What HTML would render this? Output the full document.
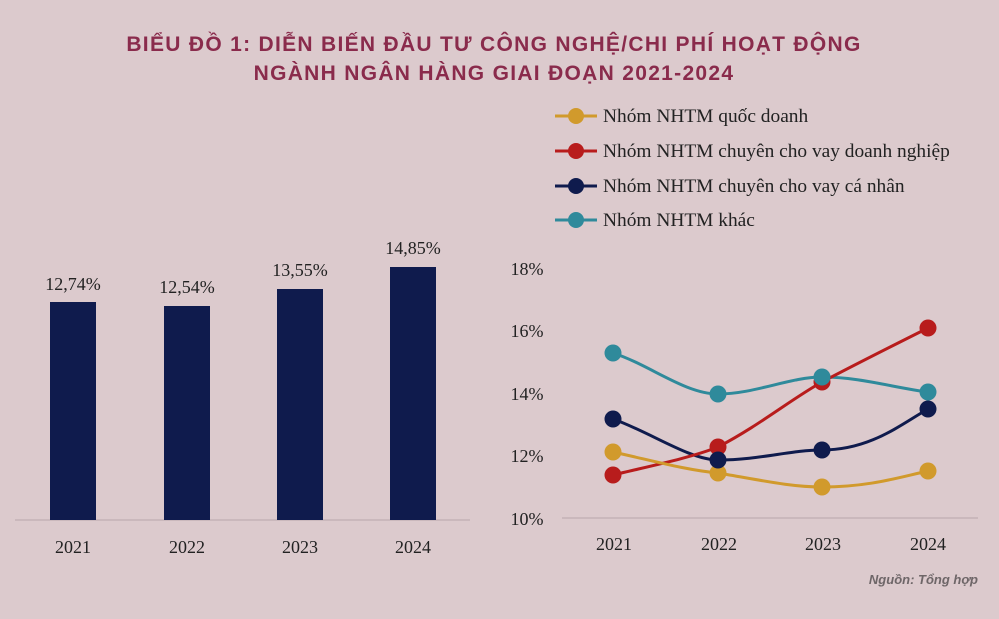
<!DOCTYPE html>
<html><head><meta charset="utf-8"><style>
body{margin:0;width:999px;height:614px;background:#dccacd;overflow:hidden;font-family:"Liberation Serif",serif}
</style></head><body>
<svg width="999" height="614" xmlns="http://www.w3.org/2000/svg">
<rect width="999" height="614" fill="#dccacd"/>
<g font-family="Liberation Sans, DejaVu Sans, sans-serif" font-weight="bold" font-size="21" letter-spacing="1.3" fill="#8a2b4c" text-anchor="middle">
<text x="494" y="51">BIỂU ĐỒ 1: DIỄN BIẾN ĐẦU TƯ CÔNG NGHỆ/CHI PHÍ HOẠT ĐỘNG</text>
<text x="494" y="80">NGÀNH NGÂN HÀNG GIAI ĐOẠN 2021-2024</text>
</g>
<line x1="15" y1="520" x2="470" y2="520" stroke="#b8a6aa" stroke-width="1"/>
<g fill="#0f1b4d">
<rect x="50" y="302" width="46" height="218"/>
<rect x="164" y="306" width="46" height="214"/>
<rect x="277" y="289" width="46" height="231"/>
<rect x="390" y="267" width="46" height="253"/>
</g>
<g font-size="18" fill="#222" text-anchor="middle" font-family="Liberation Serif, serif">
<text x="73" y="290">12,74%</text><text x="187" y="293">12,54%</text>
<text x="300" y="276">13,55%</text><text x="413" y="254">14,85%</text>
<text x="73" y="553">2021</text><text x="187" y="553">2022</text>
<text x="300" y="553">2023</text><text x="413" y="553">2024</text>
<text x="527" y="275">18%</text><text x="527" y="337">16%</text>
<text x="527" y="400">14%</text><text x="527" y="462">12%</text>
<text x="527" y="525">10%</text>
<text x="614" y="550">2021</text><text x="719" y="550">2022</text>
<text x="823" y="550">2023</text><text x="928" y="550">2024</text>
</g>
<line x1="562" y1="518" x2="978" y2="518" stroke="#b8a6aa" stroke-width="1"/>
<g fill="none" stroke-width="3">
<path d="M613,353 C650,365 685,394 718,394 C755,394 790,377 822,377 C860,377 895,388 928,392" stroke="#2f8a9b"/>
<path d="M613,419 C650,432 690,460 718,460 C760,460 790,450 822,450 C870,450 900,425 928,409" stroke="#0f1b4d"/>
<path d="M613,475 C650,466 690,458 718,447 C760,425 790,400 822,382 C860,362 900,342 928,328" stroke="#b81c1c"/>
<path d="M613,452 C650,460 685,470 718,473 C760,480 790,487 822,487 C870,487 900,477 928,471" stroke="#d19a2c"/>
</g>
<g>
<circle cx="613" cy="475" r="8.5" fill="#b81c1c"/><circle cx="718" cy="447" r="8.5" fill="#b81c1c"/><circle cx="822" cy="382" r="8.5" fill="#b81c1c"/><circle cx="928" cy="328" r="8.5" fill="#b81c1c"/>
<circle cx="613" cy="452" r="8.5" fill="#d19a2c"/><circle cx="718" cy="473" r="8.5" fill="#d19a2c"/><circle cx="822" cy="487" r="8.5" fill="#d19a2c"/><circle cx="928" cy="471" r="8.5" fill="#d19a2c"/>
<circle cx="613" cy="419" r="8.5" fill="#0f1b4d"/><circle cx="718" cy="460" r="8.5" fill="#0f1b4d"/><circle cx="822" cy="450" r="8.5" fill="#0f1b4d"/><circle cx="928" cy="409" r="8.5" fill="#0f1b4d"/>
<circle cx="613" cy="353" r="8.5" fill="#2f8a9b"/><circle cx="718" cy="394" r="8.5" fill="#2f8a9b"/><circle cx="822" cy="377" r="8.5" fill="#2f8a9b"/><circle cx="928" cy="392" r="8.5" fill="#2f8a9b"/>
</g>
<g stroke-width="3">
<line x1="555" y1="116" x2="597" y2="116" stroke="#d19a2c"/><circle cx="576" cy="116" r="8" fill="#d19a2c"/>
<line x1="555" y1="151" x2="597" y2="151" stroke="#b81c1c"/><circle cx="576" cy="151" r="8" fill="#b81c1c"/>
<line x1="555" y1="186" x2="597" y2="186" stroke="#0f1b4d"/><circle cx="576" cy="186" r="8" fill="#0f1b4d"/>
<line x1="555" y1="220" x2="597" y2="220" stroke="#2f8a9b"/><circle cx="576" cy="220" r="8" fill="#2f8a9b"/>
</g>
<g font-size="19.4" fill="#222" font-family="Liberation Serif, serif">
<text x="603" y="122">Nhóm NHTM quốc doanh</text>
<text x="603" y="157">Nhóm NHTM chuyên cho vay doanh nghiệp</text>
<text x="603" y="192">Nhóm NHTM chuyên cho vay cá nhân</text>
<text x="603" y="226">Nhóm NHTM khác</text>
</g>
<text x="978" y="584" text-anchor="end" font-family="Liberation Sans, sans-serif" font-size="13" font-style="italic" font-weight="bold" fill="#6e6668">Nguồn: Tổng hợp</text>
</svg>
</body></html>
